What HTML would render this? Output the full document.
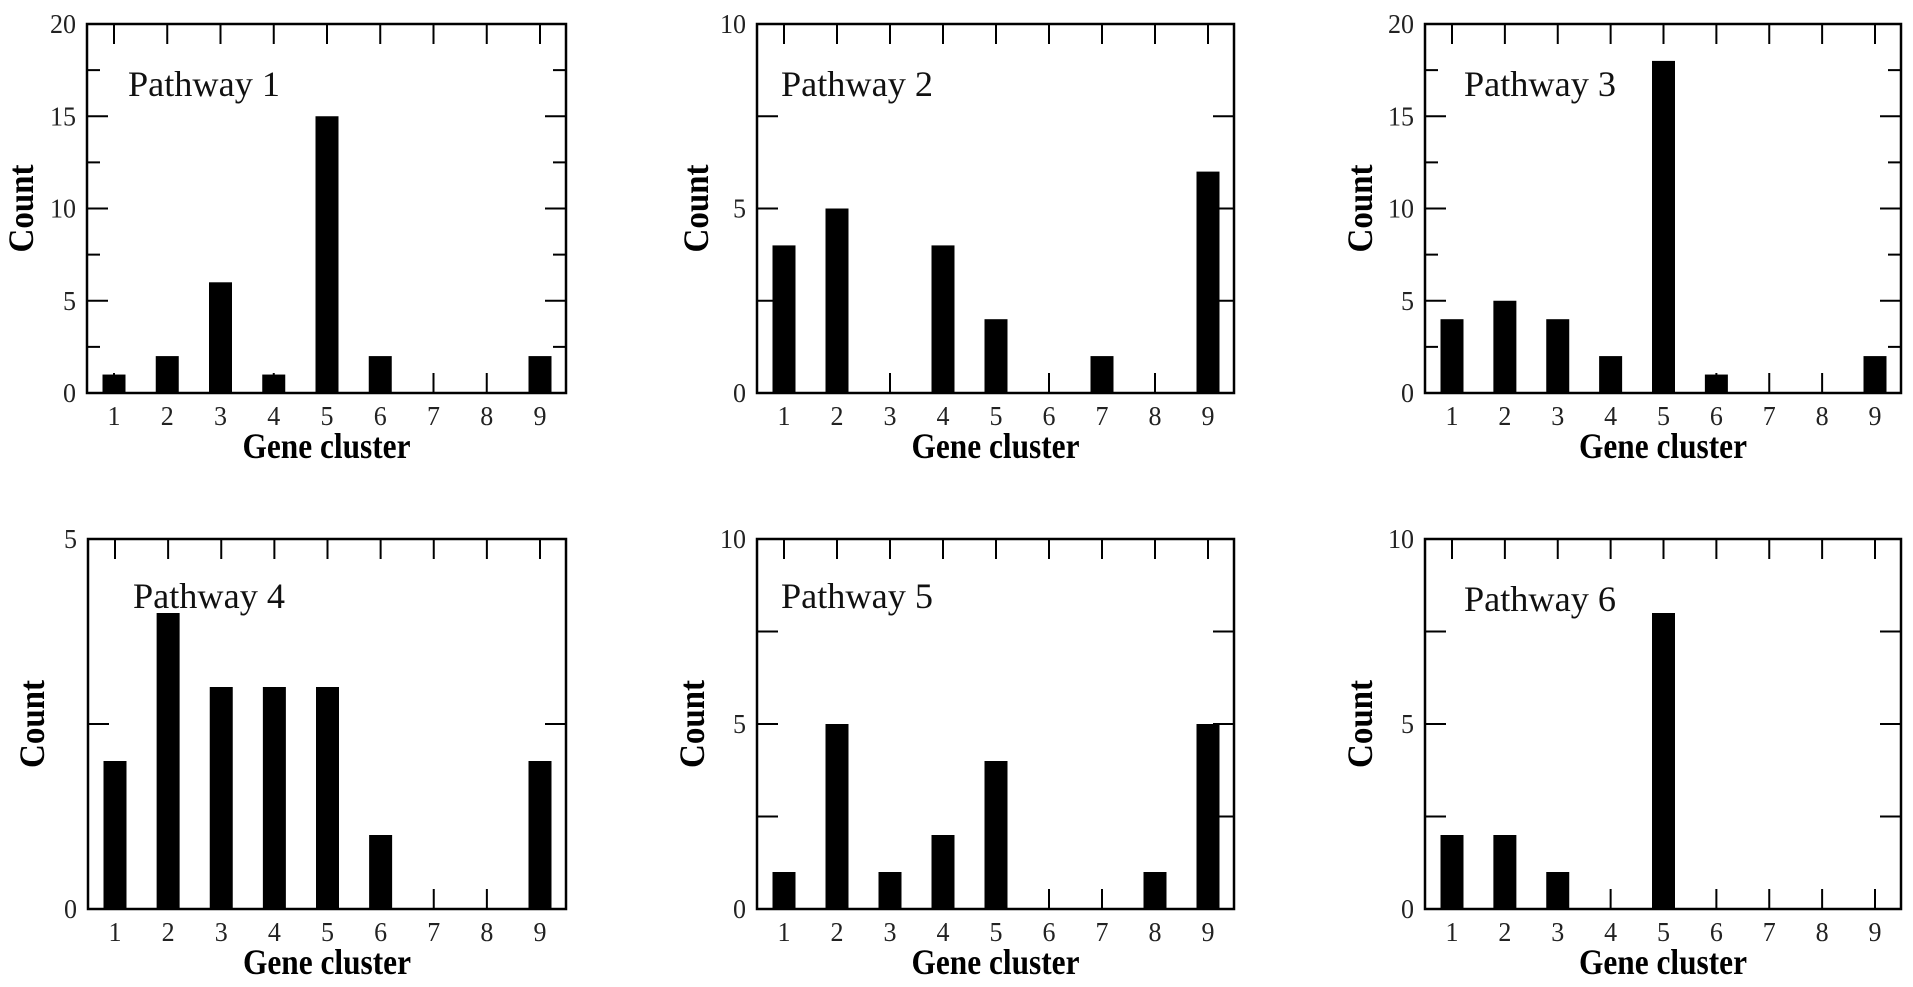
<!DOCTYPE html>
<html><head><meta charset="utf-8"><style>
html,body{margin:0;padding:0;background:#fff;}
svg{display:block;}
text{font-family:"Liberation Serif",serif;}
</style></head><body>
<svg id="fig" width="1913" height="987" viewBox="0 0 1913 987" xmlns="http://www.w3.org/2000/svg"></svg>
<script>
const categories = [1,2,3,4,5,6,7,8,9];
const pathwayNames = ["Pathway 1","Pathway 2","Pathway 3","Pathway 4","Pathway 5","Pathway 6"];
const pathway1 = [1,2,6,1,15,2,0,0,2];
const pathway2 = [4,5,0,4,2,0,1,0,6];
const pathway3 = [4,5,4,2,18,1,0,0,2];
const pathway4 = [2,4,3,3,3,1,0,0,2];
const pathway5 = [1,5,1,2,4,0,0,1,5];
const pathway6 = [2,2,1,0,8,0,0,0,0];
const yMaxes = [20,10,20,5,10,10];
const yLabelTicks20 = [0,5,10,15,20];
const yLabelTicks10 = [0,5,10];
const yLabelTicks5 = [0,5];

const series = [pathway1,pathway2,pathway3,pathway4,pathway5,pathway6];
const NS = "http://www.w3.org/2000/svg";
const svg = document.getElementById('fig');
function mk(tag, attrs, parent){
  const e = document.createElementNS(NS, tag);
  for (const k in attrs) e.setAttribute(k, attrs[k]);
  (parent||svg).appendChild(e);
  return e;
}
const frames = [
  {l:87,r:566,t:24,b:393},
  {l:757,r:1234,t:24,b:393},
  {l:1425,r:1901,t:24,b:393},
  {l:88,r:566,t:539,b:909},
  {l:757,r:1234,t:539,b:909},
  {l:1425,r:1901,t:539,b:909}
];
const titlePos = [[128,96],[781,96],[1464,96],[133,608],[781,608],[1464,611]];
const countX = [-65,-60,-64,-55,-64,-64];

frames.forEach((f,i)=>{
  const g = mk('g',{});
  
  
  const ymax = yMaxes[i];
  const xs = k => f.l + 27 + (k-1)*((f.r-f.l-53)/8);
  const ys = v => f.b - v/ymax*(f.b-f.t);
  categories.forEach(c=>{
    const x = xs(c);
    const tt = mk('line',{x1:x,x2:x,y1:f.t,y2:f.t+20,stroke:'#000','stroke-width':2},g);
    
    
    const tb = mk('line',{x1:x,x2:x,y1:f.b,y2:f.b-20,stroke:'#000','stroke-width':2},g);
    
    
    const lbl = mk('text',{x:x,y:f.b+32,'text-anchor':'middle','font-size':27,fill:'#222',textLength:13,lengthAdjust:'spacingAndGlyphs'},g);
    lbl.textContent = c;
    
    
  });
  const labels = ymax===20 ? yLabelTicks20 : (ymax===10 ? yLabelTicks10 : yLabelTicks5);
  const step = 2.5;
  for (let v=0; v<=ymax+0.001; v+=step){
    const y = ys(v);
    const major = labels.indexOf(v) >= 0;
    const len = (ymax===20 && !major) ? 13 : 21;
    const a = mk('line',{x1:f.l,x2:f.l+len,y1:y,y2:y,stroke:'#000','stroke-width':2},g);
    
    
    const b = mk('line',{x1:f.r,x2:f.r-len,y1:y,y2:y,stroke:'#000','stroke-width':2},g);
    
    
  }
  labels.forEach(v=>{
    const t = mk('text',{x:f.l-11,y:ys(v)+9,'text-anchor':'end','font-size':27,fill:'#222',textLength:(v>=10?26:13),lengthAdjust:'spacingAndGlyphs'},g);
    t.textContent = v;
    
    
  });
  series[i].forEach((v,j)=>{
    if (v<=0) return;
    const x = xs(categories[j]);
    const r = mk('rect',{x:x-11.5,y:ys(v),width:23,height:f.b-ys(v),fill:'#000'},g);
    
    
  });
  const fr = mk('rect',{x:f.l,y:f.t,width:f.r-f.l,height:f.b-f.t,fill:'none',stroke:'#000','stroke-width':2.5},g);
  
  
  const tp = titlePos[i];
  const ti = mk('text',{x:tp[0],y:tp[1],'font-size':36,fill:'#111',textLength:152,lengthAdjust:'spacingAndGlyphs'},g);
  ti.textContent = pathwayNames[i];
  
  
  const xt = mk('text',{x:(f.l+f.r)/2-84,y:f.b+65,'font-size':36,'font-weight':'bold',textLength:168,lengthAdjust:'spacingAndGlyphs'},g);
  xt.textContent = 'Gene cluster';
  
  
  const cx = f.l + countX[i] + 11, cy = (f.t+f.b)/2;
  const yt = mk('text',{x:cx-44,y:cy,'font-size':36,'font-weight':'bold',textLength:88,lengthAdjust:'spacingAndGlyphs',transform:'rotate(-90 '+cx+' '+cy+')'},g);
  yt.textContent = 'Count';
  
  
});
</script>
</body></html>
